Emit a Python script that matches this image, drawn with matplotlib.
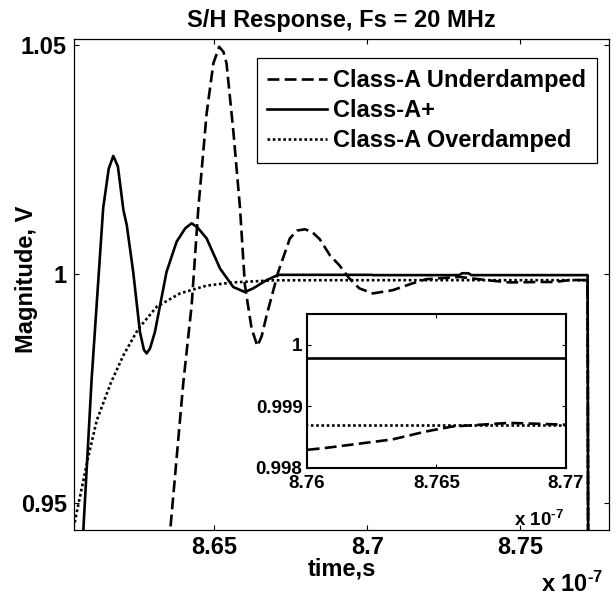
import numpy as np
import matplotlib
matplotlib.use('Agg')
import matplotlib.pyplot as plt

plt.rcParams['font.family'] = ['Liberation Sans', 'DejaVu Sans']
plt.rcParams['font.weight'] = 'bold'
plt.rcParams['mathtext.fontset'] = 'custom'
plt.rcParams['mathtext.rm'] = 'Liberation Sans:bold'
plt.rcParams['mathtext.default'] = 'rm'

# time in units of 1e-7 s, magnitude in V
t_under = [8.6350, 8.6356, 8.6399, 8.6426, 8.6448, 8.6475, 8.6497, 8.6516, 8.6530,
           8.6540, 8.6562, 8.6584, 8.6600, 8.6622, 8.6641, 8.6655, 8.6671, 8.6709,
           8.6747, 8.6770, 8.6796, 8.6820, 8.6845, 8.6878, 8.6908, 8.6941, 8.6974,
           8.7018, 8.7083, 8.7148, 8.7192, 8.7301, 8.7390, 8.7464, 8.7573, 8.7600,
           8.7607, 8.7633, 8.7646, 8.7656, 8.7678, 8.7700, 8.7720, 8.7722]
v_under = [0.930, 0.9441, 0.9765, 0.9932, 1.0145, 1.0351, 1.0460, 1.0496, 1.0485,
           1.0460, 1.0314, 1.0145, 0.9976, 0.9881, 0.9843, 0.9865, 0.9910, 1.0005,
           1.0078, 1.0095, 1.0098, 1.0092, 1.0076, 1.0041, 1.0020, 0.9991, 0.9969,
           0.9958, 0.9965, 0.9980, 0.9989, 0.9994, 0.9987, 0.9982, 0.9983, 0.99829,
           0.99832, 0.99846, 0.99859, 0.99867, 0.99873, 0.99870, 0.99870, 0.930]

t_plus = [8.6060, 8.6072, 8.6099, 8.6137, 8.6155, 8.6170, 8.6185, 8.6203, 8.6214,
          8.6235, 8.6257, 8.6270, 8.6279, 8.6290, 8.6306, 8.6344, 8.6377, 8.6405,
          8.6426, 8.6445, 8.6475, 8.6519, 8.6562, 8.6600, 8.6627, 8.6671, 8.6709,
          8.7015, 8.7020, 8.7300, 8.7310, 8.7330, 8.7340, 8.7720, 8.7722]
v_plus = [0.930, 0.9441, 0.9769, 1.0145, 1.0230, 1.0258, 1.0235, 1.0140, 1.0107,
          1.0005, 0.9874, 0.9835, 0.9827, 0.9838, 0.9874, 1.0005, 1.0071, 1.0100,
          1.0111, 1.0102, 1.0078, 1.0012, 0.9972, 0.9961, 0.9969, 0.9987, 0.99985,
          0.99985, 0.99979, 0.99979, 1.0002, 1.0002, 0.99979, 0.99979, 0.930]

t_over = [8.6030, 8.6043, 8.6061, 8.6088, 8.6116, 8.6162, 8.6203, 8.6252, 8.6312,
          8.6388, 8.6475, 8.6562, 8.6693, 8.6878, 8.7720, 8.7722]
v_over = [0.9425, 0.9456, 0.9514, 0.9601, 0.9681, 0.9763, 0.9823, 0.9881, 0.9929,
          0.9958, 0.9975, 0.9982, 0.99865, 0.99869, 0.99869, 0.930]

labels = ['Class-A Underdamped', 'Class-A+', 'Class-A Overdamped']
main_xticks = [8.65, 8.7, 8.75]
main_yticks = [0.95, 1, 1.05]
ins_xticks = [8.76, 8.765, 8.77]
ins_yticks = [0.998, 0.999, 1]

fig = plt.figure(figsize=(6.16, 5.96), dpi=100)
ax = fig.add_axes([0.1206, 0.1107, 0.8676, 0.8233])

def draw(a, lw):
    a.plot(t_under, v_under, color='k', lw=lw, dashes=(4.5, 2.0), label=labels[0])
    a.plot(t_plus, v_plus, color='k', lw=lw, label=labels[1])
    a.plot(t_over, v_over, color='k', lw=lw, dashes=(1.0, 1.0), label=labels[2])

draw(ax, 1.9)
ax.set_xlim(8.60425, 8.7789)
ax.set_ylim(0.94417, 1.05124)
ax.set_xticks(main_xticks)
ax.set_xticklabels(['8.65', '8.7', '8.75'])
ax.set_yticks(main_yticks)
ax.set_yticklabels(['0.95', '1', '1.05'])
ax.tick_params(direction='in', length=3.5, width=0.8, top=True, right=True,
               labelsize=17)
ax.tick_params(axis='x', pad=4)
ax.tick_params(axis='y', pad=5.5)
for s in ax.spines.values():
    s.set_linewidth(0.9)
ax.set_title('S/H Response, Fs = 20 MHz', fontsize=17, fontweight='bold', pad=8.6)
ax.set_xlabel('time,s', fontsize=17, fontweight='bold')
ax.set_ylabel('Magnitude, V', fontsize=17, fontweight='bold')
ax.xaxis.set_label_coords(0.5, -0.055)
ax.yaxis.set_label_coords(-0.068, 0.5115)

leg = ax.legend(loc='upper right', bbox_to_anchor=(0.9775, 0.9613), borderaxespad=0,
                fontsize=17, handlelength=2.54, handletextpad=0.25, borderpad=0.45,
                labelspacing=0.3, fancybox=False, framealpha=1, edgecolor='k')
leg.get_frame().set_linewidth(0.9)

fig.text(603 / 616, 1 - 592 / 596, r'x 10$^{\text{-7}}$', ha='right', va='baseline',
         fontsize=17)

ins = fig.add_axes([0.4979, 0.2153, 0.4209, 0.2574])
draw(ins, 1.9)
ins.set_xlim(8.76, 8.77)
ins.set_ylim(0.998, 1.0005)
ins.set_xticks(ins_xticks)
ins.set_xticklabels(['8.76', '8.765', '8.77'])
ins.set_yticks(ins_yticks)
ins.set_yticklabels(['0.998', '0.999', '1'])
ins.tick_params(direction='in', length=3, width=0.8, top=True, right=True,
                labelsize=13.5)
ins.tick_params(axis='x', pad=5.5)
ins.tick_params(axis='y', pad=3)
for s in ins.spines.values():
    s.set_linewidth(1.5)
fig.text(564 / 616, 1 - 526 / 596, r'x 10$^{\text{-7}}$', ha='right', va='baseline',
         fontsize=13.5)

fig.savefig('out.png', dpi=100)
